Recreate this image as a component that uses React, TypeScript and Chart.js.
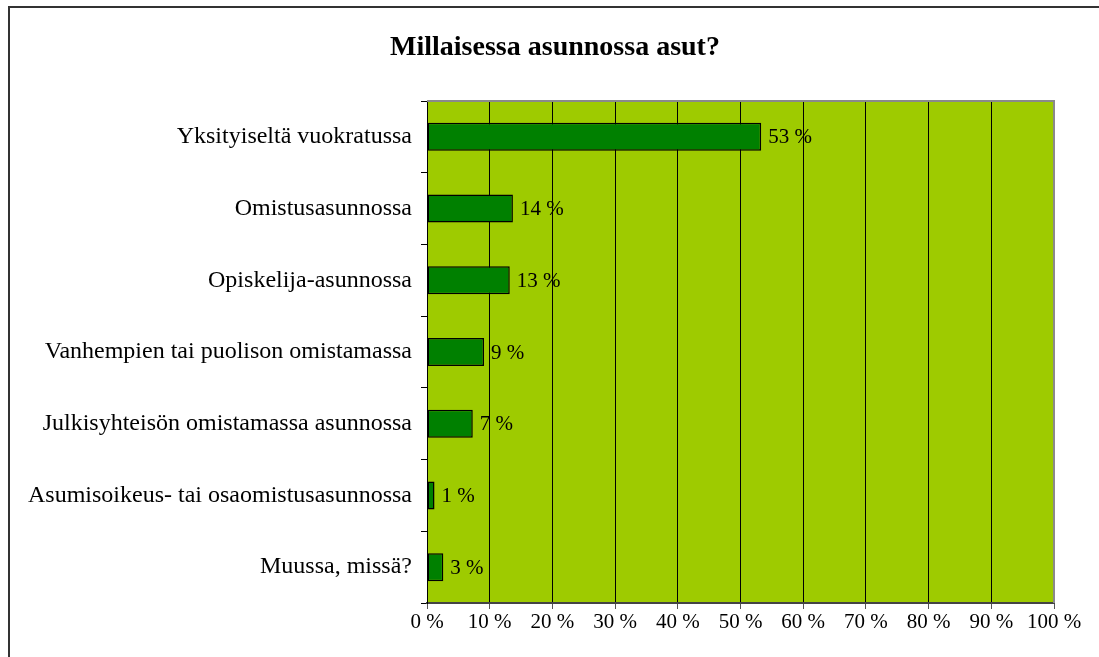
import React, { useEffect, useRef } from "react";
import { Chart, registerables } from "chart.js";

Chart.register(...registerables);

const categories = [
  "Yksityiseltä vuokratussa",
  "Omistusasunnossa",
  "Opiskelija-asunnossa",
  "Vanhempien tai puolison omistamassa",
  "Julkisyhteisön omistamassa asunnossa",
  "Asumisoikeus- tai osaomistusasunnossa",
  "Muussa, missä?",
];
const values = [53.3, 13.7, 13.2, 9.1, 7.3, 1.2, 2.6];
const xTicks = [0, 10, 20, 30, 40, 50, 60, 70, 80, 90, 100];
const title = "Millaisessa asunnossa asut?";

const FONT = "'Liberation Serif', 'Times New Roman', serif";

const plotStyle = {
  id: "plotStyle",
  beforeDraw(chart: any) {
    const { ctx, chartArea } = chart;
    ctx.save();
    ctx.fillStyle = "#9ECB00";
    ctx.fillRect(chartArea.left, chartArea.top, chartArea.right - chartArea.left, chartArea.bottom - chartArea.top);
    ctx.restore();
  },
  afterDraw(chart: any) {
    const { ctx, chartArea } = chart;
    ctx.save();
    ctx.strokeStyle = "#8a8a8a";
    ctx.lineWidth = 2;
    ctx.beginPath();
    ctx.moveTo(chartArea.left, chartArea.top);
    ctx.lineTo(chartArea.right, chartArea.top);
    ctx.lineTo(chartArea.right, chartArea.bottom);
    ctx.stroke();
    // title
    ctx.font = `bold 28px ${FONT}`;
    ctx.fillStyle = "#000";
    ctx.textAlign = "center";
    ctx.textBaseline = "alphabetic";
    ctx.fillText(title, 545, 47);
    ctx.restore();
  },
};

const valueLabels = {
  id: "valueLabels",
  afterDatasetsDraw(chart: any) {
    const { ctx } = chart;
    const meta = chart.getDatasetMeta(0);
    ctx.save();
    ctx.font = `21px ${FONT}`;
    ctx.fillStyle = "#000";
    ctx.textBaseline = "middle";
    ctx.textAlign = "left";
    meta.data.forEach((bar: any, i: number) => {
      ctx.fillText(`${Math.round(values[i])} %`, bar.x + 7, bar.y + 1);
    });
    ctx.restore();
  },
};

export default function App() {
  const ref = useRef<HTMLCanvasElement>(null);
  useEffect(() => {
    if (!ref.current) return;
    const chart = new Chart(ref.current, {
      type: "bar",
      data: {
        labels: categories,
        datasets: [
          {
            data: values,
            backgroundColor: "#008000",
            borderColor: "#000",
            borderWidth: 1.5,
            borderSkipped: false,
            categoryPercentage: 1,
            barPercentage: 0.39,
          },
        ],
      },
      options: {
        indexAxis: "y",
        animation: false,
        responsive: false,
        layout: { padding: { left: 0, right: 45, top: 93, bottom: 0 } },
        plugins: {
          legend: { display: false },
          tooltip: { enabled: false },
          title: { display: false },
        },
        scales: {
          x: {
            type: "linear",
            min: 0,
            max: 100,
            afterBuildTicks(scale: any) {
              scale.ticks = xTicks.map((v) => ({ value: v }));
            },
            afterFit(scale: any) {
              scale.height = 54;
            },
            ticks: {
              color: "#000",
              font: { family: FONT, size: 21 },
              padding: 1,
              maxRotation: 0,
              callback: (v: any) => `${v} %`,
            },
            grid: {
              color: (c: any) => (c.index === 10 ? "#8a8a8a" : "#000"),
              lineWidth: 1,
              tickLength: 6,
              tickColor: "#555",
            },
            border: { color: "#444", width: 2 },
          },
          y: {
            afterFit(scale: any) {
              scale.width = 417;
            },
            ticks: {
              color: "#000",
              font: { family: FONT, size: 24 },
              padding: 9,
            },
            grid: {
              drawOnChartArea: false,
              tickLength: 6,
              tickColor: "#000",
              offset: true,
            },
            border: { color: "#000", width: 1 },
          },
        },
      },
      plugins: [plotStyle, valueLabels],
    });
    return () => chart.destroy();
  }, []);
  return (
    <div
      style={{
        position: "absolute",
        left: 8,
        top: 6,
        width: 1200,
        height: 720,
        border: "2px solid #333",
        boxSizing: "border-box",
        background: "#fff",
        overflow: "hidden",
      }}
    >
      <canvas ref={ref} width={1089} height={649} style={{ display: "block", width: 1089, height: 649 }} />
    </div>
  );
}
